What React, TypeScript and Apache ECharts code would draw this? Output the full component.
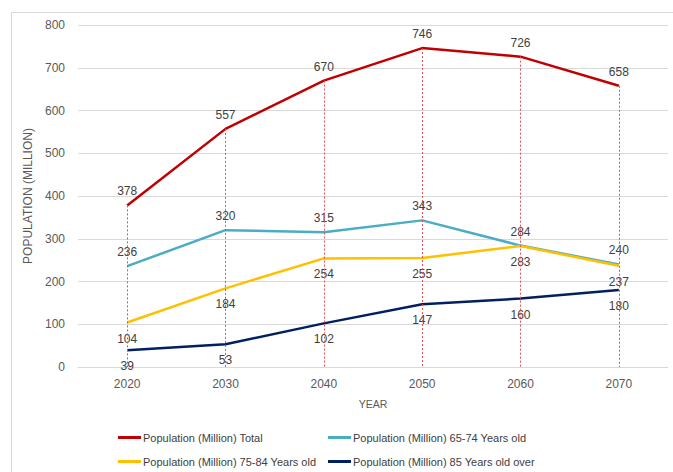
import React, { useEffect, useRef } from "react";
import * as echarts from "echarts";

const years = ["2020", "2030", "2040", "2050", "2060", "2070"];
const total = [378, 557, 670, 746, 726, 658];
const age6574 = [236, 320, 315, 343, 284, 240];
const age7584 = [104, 184, 254, 255, 283, 237];
const age85 = [39, 53, 102, 147, 160, 180];
const names = [
  "Population (Million) Total",
  "Population (Million) 65-74 Years old",
  "Population (Million) 75-84 Years old",
  "Population (Million) 85 Years old over",
];
const colors = ["#C00000", "#4BACC6", "#FFC000", "#002060"];

const FONT = "'Liberation Sans', 'Noto Sans', sans-serif";

export default function App() {
  const ref = useRef<HTMLDivElement>(null);
  useEffect(() => {
    document.body.style.margin = "0";
    const chart = echarts.init(ref.current!, null, { renderer: "svg" });
    const label = (pos: "top" | "bottom") => ({
      show: true,
      position: pos,
      distance: pos === "top" ? 8 : 10,
      color: "#404040",
      fontSize: 12,
      fontFamily: FONT,
    });
    const mk = (i: number, data: number[], pos: "top" | "bottom", extra: any = {}) => ({
      name: names[i],
      type: "line",
      data,
      symbol: "circle",
      symbolSize: 0,
      showSymbol: true,
      lineStyle: { color: colors[i], width: 2.5 },
      itemStyle: { color: colors[i] },
      label: label(pos),
      labelLayout: { hideOverlap: false },
      ...extra,
    });
    const legendPos = [
      { left: 118, top: 432 },
      { left: 328, top: 432 },
      { left: 118, top: 456 },
      { left: 328, top: 456 },
    ];
    chart.setOption({
      animation: false,
      textStyle: { fontFamily: FONT },
      graphic: [
        {
          type: "rect",
          shape: { x: 11.5, y: 12.5, width: 700, height: 500 },
          style: { fill: "none", stroke: "#d9d9d9", lineWidth: 1 },
          silent: true,
        },
      ],
      grid: { left: 78, right: 5, top: 25, bottom: 105, containLabel: false },
      legend: names.map((n, i) => ({
        data: [n],
        ...legendPos[i],
        padding: 0,
        icon: "rect",
        itemWidth: 23,
        itemHeight: 3,
        itemGap: 2,
        textStyle: { color: "#404040", fontSize: 11, fontFamily: FONT, padding: [0, 0, 0, -3] },
        selectedMode: false,
      })),
      xAxis: {
        type: "category",
        data: years,
        boundaryGap: true,
        axisLine: { show: true, lineStyle: { color: "#d9d9d9" } },
        axisTick: { show: false },
        axisLabel: { color: "#595959", fontSize: 12, margin: 11, fontFamily: FONT },
        name: "YEAR",
        nameLocation: "middle",
        nameGap: 31,
        nameTextStyle: { color: "#595959", fontSize: 10.5, fontFamily: FONT },
      },
      yAxis: {
        type: "value",
        min: 0,
        max: 800,
        interval: 100,
        axisLine: { show: false },
        axisTick: { show: false },
        splitLine: { lineStyle: { color: "#d9d9d9" } },
        axisLabel: { color: "#595959", fontSize: 12, margin: 13, fontFamily: FONT },
        name: "POPULATION (MILLION)",
        nameLocation: "middle",
        nameGap: 36,
        nameTextStyle: { color: "#595959", fontSize: 12, fontFamily: FONT },
      },
      series: [
        mk(0, total, "top", {
          z: 3,
          markLine: {
            silent: true,
            symbol: ["none", "none"],
            label: { show: false },
            lineStyle: { color: "#E05050", type: [2, 2], width: 1 },
            data: years.map((y, i) => [
              { coord: [i, total[i]] },
              { coord: [i, 0] },
            ]),
          },
        }),
        mk(1, age6574, "top"),
        mk(2, age7584, "bottom"),
        mk(3, age85, "bottom"),
      ],
    });
    return () => chart.dispose();
  }, []);
  return <div ref={ref} style={{ width: 673, height: 472 }} />;
}
